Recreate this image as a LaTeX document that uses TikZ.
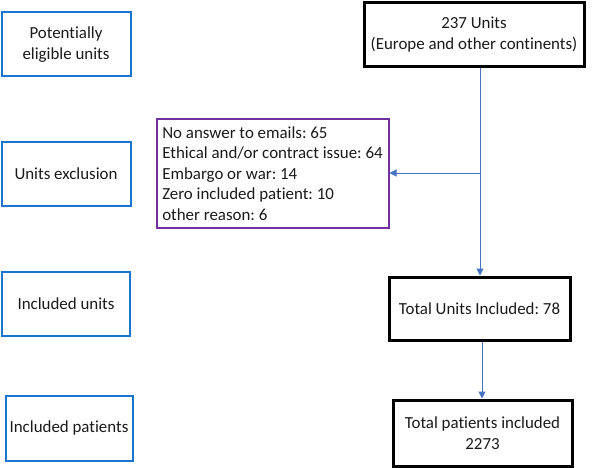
\documentclass[tikz,border=0pt]{standalone}
\usepackage{fontspec}
\setmainfont{Carlito}[Ligatures={NoCommon}]
\frenchspacing
\usetikzlibrary{arrows.meta}
\definecolor{lblue}{HTML}{1A75CF}
\definecolor{cblue}{HTML}{4472C4}
\definecolor{purp}{HTML}{7030A0}
\definecolor{txt}{HTML}{1A1A1A}
\begin{document}
\begin{tikzpicture}[x=1pt,y=-1pt,
  every node/.style={font=\fontsize{16.9}{20.5}\selectfont\frenchspacing, text=txt, inner sep=0pt},
  labelbox/.style={draw=lblue, line width=2pt, align=center},
  mainbox/.style={draw=black, line width=3pt, align=center},
  exclbox/.style={draw=purp, line width=2pt, align=left},
  conn/.style={draw=cblue, line width=1pt},
  arr/.style={conn, -{Triangle[length=7pt,width=7pt]}}]
\useasboundingbox (0,0) rectangle (597,468);
\fill[white] (0,0) rectangle (597,468);
% left label boxes
\node[labelbox, minimum width=129pt, minimum height=64pt] (l1) at (66,44.5) {Potentially\\eligible units};
\node[labelbox, minimum width=129pt, minimum height=63pt] (l2) at (66,174) {Units exclusion};
\node[labelbox, minimum width=128pt, minimum height=64pt] (l3) at (66,303.5) {Included units};
\node[labelbox, minimum width=127pt, minimum height=65pt] (l4) at (69,428) {Included patients};
% main flow
\node[mainbox, minimum width=220pt, minimum height=64pt] (top) at (474,34.5) {237 Units\\(Europe and other continents)};
\node[exclbox, minimum width=232pt, minimum height=108pt] (ex) at (272.5,173.5) {No answer to emails: 65\\Ethical and/or contract issue: 64\\Embargo or war: 14\\Zero included patient: 10\\other reason: 6};
\node[mainbox, minimum width=181pt, minimum height=63pt] (tu) at (479.5,308.5) {Total Units Included: 78};
\node[mainbox, minimum width=179pt, minimum height=66pt] (tp) at (482.5,433) {Total patients included\\2273};
% connectors
\coordinate (vx) at (480,0);
\coordinate (br) at (480,173);
\coordinate (vx2) at (482,0);
\draw[arr] (top.south -| vx) -- (tu.north -| vx);
\draw[arr] (br) -- (ex.east |- br);
\draw[arr] (tu.south -| vx2) -- (tp.north -| vx2);
\end{tikzpicture}
\end{document}
